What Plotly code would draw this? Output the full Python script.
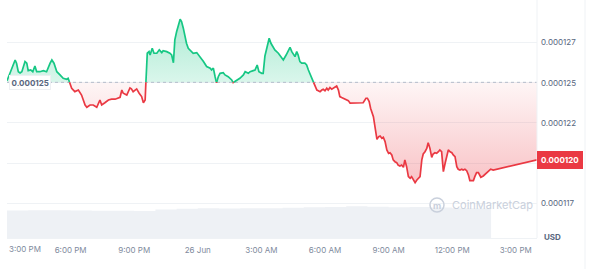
import numpy as np
import pandas as pd
import plotly.graph_objects as go

# ---------------- data ----------------
start_time = "2024-06-25 15:00"
end_time = "2024-06-26 16:00"

# minutes after start_time, price in micro-USD (1e-6 USD)
minutes = [0, 8, 23, 27, 32, 37, 42, 51, 56, 60, 67, 73, 79, 84, 93, 103, 112, 122, 127, 133,
           141, 150, 159, 169, 173, 178, 183, 192, 202, 211, 221, 226, 235, 244, 254, 263, 268, 277, 287, 296,
           306, 320, 325, 329, 339, 348, 352, 357, 367, 374, 381, 386, 391, 393, 397, 402, 405, 411, 416, 424,
           431, 438, 442, 452, 461, 466, 471, 475, 480, 490, 494, 499, 504, 508, 513, 518, 523, 527, 537, 546,
           556, 565, 575, 579, 584, 589, 593, 598, 603, 612, 617, 626, 636, 640, 645, 650, 659, 669, 674, 683,
           688, 697, 702, 708, 713, 721, 725, 730, 735, 742, 747, 752, 758, 768, 777, 782, 790, 796, 801, 806,
           811, 815, 820, 824, 829, 834, 843, 848, 853, 858, 862, 867, 872, 877, 881, 886, 891, 895, 900, 905,
           909, 914, 919, 924, 928, 933, 938, 942, 947, 952, 957, 961, 966, 971, 980, 990, 999, 1008, 1016, 1020,
           1025, 1029, 1037, 1042, 1047, 1052, 1056, 1061, 1065, 1070, 1075, 1080, 1084, 1089, 1093, 1098, 1103, 1107, 1112, 1117,
           1122, 1126, 1131, 1136, 1141, 1145, 1150, 1155, 1160, 1164, 1169, 1174, 1178, 1183, 1188, 1192, 1197, 1202, 1206, 1211,
           1216, 1221, 1225, 1230, 1235, 1240, 1245, 1249, 1254, 1259, 1263, 1268, 1273, 1277, 1282, 1287, 1291, 1296, 1301, 1306,
           1310, 1320, 1324, 1329, 1334, 1341, 1348, 1356, 1362, 1369, 1376, 1500]
price_micro = [124.63, 125.05, 125.92, 125.72, 125.19, 125.11, 125.19, 125.82, 125.72, 125.26, 125.30, 125.19, 125.55, 125.19, 125.19, 125.26, 125.19, 125.72, 125.92, 125.72,
               125.19, 124.99, 124.78, 124.72, 124.78, 124.47, 124.16, 123.95, 124.05, 123.74, 123.12, 122.98, 123.12, 123.12, 122.98, 123.43, 123.12, 123.26, 123.43, 123.48,
               123.48, 123.60, 124.05, 123.85, 123.74, 124.18, 124.12, 123.95, 124.12, 123.85, 123.64, 123.26, 123.43, 124.47, 126.34, 126.44, 126.23, 126.65, 126.34, 126.34,
               126.55, 126.38, 126.50, 126.44, 126.34, 126.23, 125.75, 127.17, 127.68, 128.46, 128.31, 127.90, 127.37, 126.96, 126.65, 126.55, 126.44, 126.34, 126.38, 126.13,
               125.82, 125.51, 125.41, 125.30, 125.41, 124.88, 124.50, 124.88, 125.09, 125.13, 124.99, 124.88, 124.68, 124.51, 124.57, 124.62, 124.78, 124.99, 125.19, 125.09,
               125.19, 125.26, 125.30, 125.61, 125.19, 125.09, 125.09, 126.17, 126.67, 127.27, 126.96, 126.75, 126.55, 126.34, 126.03, 125.92, 126.23, 126.55, 126.71, 126.44,
               126.23, 126.13, 126.44, 126.23, 125.82, 125.72, 125.72, 125.61, 125.30, 124.99, 124.78, 124.57, 124.26, 124.05, 124.01, 123.95, 124.05, 124.10, 124.01, 124.16,
               124.05, 124.20, 124.10, 124.16, 124.26, 124.30, 124.05, 123.64, 123.58, 123.54, 123.48, 123.43, 123.39, 123.23, 123.23, 123.26, 123.26, 123.26, 123.54, 123.54,
               123.33, 122.92, 122.39, 121.77, 120.98, 121.15, 121.19, 121.05, 121.11, 120.84, 120.32, 120.11, 120.15, 120.01, 119.70, 119.59, 119.53, 119.38, 119.32, 119.38,
               119.24, 119.70, 119.28, 118.66, 118.56, 118.66, 118.45, 118.28, 118.45, 118.56, 118.66, 119.70, 120.07, 120.21, 120.42, 120.77, 120.42, 119.86, 120.07, 120.15,
               120.11, 120.21, 120.32, 120.21, 118.97, 119.49, 119.90, 120.32, 120.21, 120.15, 120.01, 119.90, 119.28, 119.12, 119.07, 119.12, 119.07, 119.12, 119.03, 118.76,
               118.41, 118.41, 118.66, 118.91, 118.91, 118.62, 118.70, 118.87, 119.03, 119.12, 119.07, 119.70]
open_price_micro = 124.53

# volume (relative units), hourly buckets after start_time
vol_minutes = [0, 60, 120, 180, 240, 300, 360, 420, 480, 540, 600, 660, 720, 780, 840, 900, 960, 1020,
               1080, 1140, 1200, 1260, 1320, 1370]
volume_rel = [27.6, 27.8, 27.8, 27.5, 27.3, 27.3, 27.0, 28.6, 29.3, 29.8, 29.6, 29.7, 29.8, 30.3, 30.8, 31.0,
              31.8, 31.3, 30.8, 30.9, 30.5, 29.8, 29.5, 29.5]

# the 0.000120 grid label is hidden behind the current-price badge in the reference
y_tickvals_micro = [129.5, 127.0, 124.5, 122.0, 119.5, 117.0]
y_ticktext = ["", "0.000127", "0.000125", "0.000122", "", "0.000117"]
x_tickvals = ["2024-06-25 18:00", "2024-06-25 21:00", "2024-06-26 00:00", "2024-06-26 03:00",
              "2024-06-26 06:00", "2024-06-26 09:00", "2024-06-26 12:00", "2024-06-26 15:00"]
x_ticktext = ["6:00 PM", "9:00 PM", "26 Jun", "3:00 AM", "6:00 AM", "9:00 AM", "12:00 PM", "3:00 PM"]
first_tick_text = "3:00 PM"

# ---------------- processing ----------------
UP = "#16c784"
DOWN = "#ea3943"
SCALE = 1e-6
t0 = pd.Timestamp(start_time)

t = np.array(minutes, float)
p = np.array(price_micro, float)
base = open_price_micro

# insert crossing points with the open-price baseline
tt, pp = [t[0]], [p[0]]
for i in range(1, len(t)):
    d0, d1 = p[i - 1] - base, p[i] - base
    if d0 * d1 < 0:
        f = d0 / (d0 - d1)
        tt.append(t[i - 1] + f * (t[i] - t[i - 1]))
        pp.append(base)
    tt.append(t[i])
    pp.append(p[i])
tt = np.array(tt)
pp = np.array(pp)
xs = t0 + pd.to_timedelta(tt, unit="m")

up_line = np.where(pp >= base, pp, np.nan) * SCALE
dn_line = np.where(pp <= base, pp, np.nan) * SCALE
up_fill = np.maximum(pp, base) * SCALE
dn_fill = np.minimum(pp, base) * SCALE
base_arr = np.full(len(pp), base * SCALE)

vx = t0 + pd.to_timedelta(np.array(vol_minutes, float), unit="m")

fig = go.Figure()

# volume
fig.add_trace(go.Scatter(x=vx, y=volume_rel, yaxis="y2", mode="lines", line=dict(width=0, shape="hv"),
                         fill="tozeroy", fillcolor="#eef1f5", hoverinfo="skip", showlegend=False))

# green fill above baseline
fig.add_trace(go.Scatter(x=xs, y=base_arr, mode="lines", line=dict(width=0), hoverinfo="skip", showlegend=False))
fig.add_trace(go.Scatter(x=xs, y=up_fill, mode="lines", line=dict(width=0), fill="tonexty",
                         fillgradient=dict(type="vertical",
                                           colorscale=[[0, "rgba(22,199,132,0.16)"], [1, "rgba(22,199,132,0.36)"]],
                                           start=base * SCALE, stop=max(price_micro) * SCALE),
                         hoverinfo="skip", showlegend=False))
# red fill below baseline
fig.add_trace(go.Scatter(x=xs, y=base_arr, mode="lines", line=dict(width=0), hoverinfo="skip", showlegend=False))
fig.add_trace(go.Scatter(x=xs, y=dn_fill, mode="lines", line=dict(width=0), fill="tonexty",
                         fillgradient=dict(type="vertical",
                                           colorscale=[[0, "rgba(234,57,67,0.30)"], [1, "rgba(234,57,67,0.05)"]],
                                           start=min(price_micro) * SCALE, stop=base * SCALE),
                         hoverinfo="skip", showlegend=False))

# baseline dotted
fig.add_trace(go.Scatter(x=[t0, pd.Timestamp(end_time)], y=[base * SCALE] * 2, mode="lines",
                         line=dict(color="#b4bccb", width=1, dash="dot"), hoverinfo="skip", showlegend=False))

# price lines
fig.add_trace(go.Scatter(x=xs, y=up_line, mode="lines", line=dict(color=UP, width=1.7),
                         connectgaps=False, showlegend=False))
fig.add_trace(go.Scatter(x=xs, y=dn_line, mode="lines", line=dict(color=DOWN, width=1.7),
                         connectgaps=False, showlegend=False))

GRID = "#eff2f5"
LABEL = "#58667e"
fig.update_layout(
    width=589, height=269,
    margin=dict(l=7, r=52, t=2, b=31),
    paper_bgcolor="white", plot_bgcolor="white",
    font=dict(family="Inter, Roboto, sans-serif", size=8, color=LABEL),
    xaxis=dict(range=[t0, pd.Timestamp(end_time)], tickvals=x_tickvals, ticktext=x_ticktext,
               showgrid=False, zeroline=False, showline=True, linecolor=GRID, linewidth=1,
               ticks="", tickfont=dict(size=8, color="#808a9d"), ticklabelstandoff=4),
    yaxis=dict(side="right", range=[114.84 * SCALE, 129.53 * SCALE],
               tickvals=[v * SCALE for v in y_tickvals_micro], ticktext=y_ticktext,
               showgrid=True, gridcolor=GRID, gridwidth=1, zeroline=False, showline=False,
               ticks="", tickfont=dict(size=8, color=LABEL), ticklabelstandoff=3),
    yaxis2=dict(overlaying="y", range=[0, 236], visible=False),
    hovermode=False,
)

# frame lines
fig.add_shape(type="line", xref="paper", yref="paper", x0=1, x1=1, y0=0, y1=1.01,
              line=dict(color=GRID, width=1))
fig.add_shape(type="line", xref="paper", yref="paper", x0=1.0906, x1=1.0906, y0=-0.15, y1=1.01,
              line=dict(color=GRID, width=1))

# first x label (shifted inward like the reference)
fig.add_annotation(x=t0, y=0, xref="x", yref="paper", xanchor="left", yanchor="middle", yshift=-11,
                   text=first_tick_text, showarrow=False, font=dict(size=8, color="#808a9d"))

# open price label on the left
fig.add_annotation(x=0, y=base * SCALE, xref="paper", yref="y", xanchor="left", yanchor="middle", xshift=2,
                   text=f"<b>{base * SCALE:.6f}</b>", showarrow=False, font=dict(size=8, color=LABEL),
                   bgcolor="white", bordercolor="#eef0f3", borderwidth=1, borderpad=1.5)

# current price badge
last_price = price_micro[-1] * SCALE
fig.add_annotation(x=1, y=last_price, xref="paper", yref="y", xanchor="left", yanchor="middle",
                   text=f"<b>{last_price:.6f}</b>", showarrow=False, font=dict(size=8, color="white"),
                   bgcolor=DOWN, bordercolor=DOWN, borderpad=3)

# USD label
fig.add_annotation(x=1.03, y=0.005, xref="paper", yref="paper", xanchor="center", yanchor="middle",
                   text="<b>USD</b>", showarrow=False, font=dict(size=8, color=LABEL))

# watermark
fig.add_shape(type="circle", xref="paper", yref="paper", xsizemode="pixel", ysizemode="pixel",
              xanchor=0.8113, yanchor=0.1398, x0=-7, x1=7, y0=-7, y1=7,
              line=dict(color="#c9d0dc", width=1.5))
fig.add_annotation(x=0.8113, y=0.1398, xref="paper", yref="paper", xanchor="center", yanchor="middle",
                   text="<b>m</b>", showarrow=False, font=dict(size=9, color="#c9d0dc"))
fig.add_annotation(x=0.836, y=0.1398, xref="paper", yref="paper", xanchor="left", yanchor="middle",
                   text="CoinMarketCap", showarrow=False, font=dict(size=11, color="#c9d0dc"))

fig.write_html("out.html")
